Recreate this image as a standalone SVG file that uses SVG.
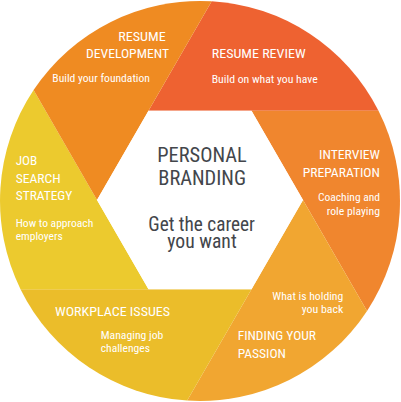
<svg xmlns="http://www.w3.org/2000/svg" width="401" height="402" viewBox="0 0 401 402">
<style>
.t{font-family:"Roboto Condensed","Liberation Sans Narrow",Roboto,"Liberation Sans",sans-serif;fill:#fff;}
.h{font-size:13.5px;}
.s{font-size:10.8px;}
.c{font-family:"Roboto Condensed","Liberation Sans Narrow",Roboto,"Liberation Sans",sans-serif;fill:#43464b;font-size:20.5px;}
</style>
<rect width="401" height="402" fill="#fff"/>
<g id="connectors"></g>
<g id="resume-review">
<path d="M148.5,110.8 L211.7,1.3 A200,200 0 0 1 378.5,110.8 Z" fill="#ee6231"/>
<text class="t h" x="211.7" y="58.3" textLength="94" lengthAdjust="spacingAndGlyphs">RESUME REVIEW</text>
<text class="t s" x="211.7" y="82.5" textLength="106" lengthAdjust="spacingAndGlyphs">Build on what you have</text>
</g>
<g id="interview-preparation">
<path d="M251.5,110.8 L378.5,110.8 A200,200 0 0 1 367.05,310.9 L303,200 Z" fill="#f0862e"/>
<text class="t h" x="319" y="159.3" textLength="61" lengthAdjust="spacingAndGlyphs">INTERVIEW</text>
<text class="t h" x="302.7" y="176.7" textLength="77.3" lengthAdjust="spacingAndGlyphs">PREPARATION</text>
<text class="t s" x="318" y="200.5" textLength="62" lengthAdjust="spacingAndGlyphs">Coaching and</text>
<text class="t s" x="326.7" y="214.5" textLength="53.3" lengthAdjust="spacingAndGlyphs">role playing</text>
</g>
<g id="finding-your-passion">
<path d="M303,200 L367.05,310.9 A200,200 0 0 1 187.2,400.6 L251.5,289.2 Z" fill="#f1a631"/>
<text class="t s" x="272.3" y="300" textLength="71" lengthAdjust="spacingAndGlyphs">What is holding</text>
<text class="t s" x="301.7" y="313.3" textLength="41.6" lengthAdjust="spacingAndGlyphs">you back</text>
<text class="t h" x="237.7" y="340" textLength="78.3" lengthAdjust="spacingAndGlyphs">FINDING YOUR</text>
<text class="t h" x="237.7" y="357.7" textLength="48.3" lengthAdjust="spacingAndGlyphs">PASSION</text>
</g>
<g id="workplace-issues">
<path d="M251.5,289.2 L187.2,400.6 A200,200 0 0 1 20.5,289.2 L148.5,289.2 Z" fill="#ebbd2a"/>
<text class="t h" x="55" y="316" textLength="115" lengthAdjust="spacingAndGlyphs">WORKPLACE ISSUES</text>
<text class="t s" x="100.7" y="339.3" textLength="62.6" lengthAdjust="spacingAndGlyphs">Managing job</text>
<text class="t s" x="100.7" y="352.3" textLength="49.3" lengthAdjust="spacingAndGlyphs">challenges</text>
</g>
<g id="job-search-strategy">
<path d="M148.5,289.2 L20.5,289.2 A200,200 0 0 1 33.6,90.1 L97,200 Z" fill="#ecca2e"/>
<text class="t h" x="15.7" y="165" textLength="21.6" lengthAdjust="spacingAndGlyphs">JOB</text>
<text class="t h" x="15.7" y="182.7" textLength="45" lengthAdjust="spacingAndGlyphs">SEARCH</text>
<text class="t h" x="15.7" y="200.3" textLength="56.6" lengthAdjust="spacingAndGlyphs">STRATEGY</text>
<text class="t s" x="15.7" y="226.7" textLength="77.6" lengthAdjust="spacingAndGlyphs">How to approach</text>
<text class="t s" x="15.7" y="240" textLength="47" lengthAdjust="spacingAndGlyphs">employers</text>
</g>
<g id="resume-development">
<path d="M97,200 L33.6,90.1 A200,200 0 0 1 211.7,1.3 L148.5,110.8 Z" fill="#ef8b22"/>
<text class="t h" x="118.3" y="40.7" textLength="47.4" lengthAdjust="spacingAndGlyphs">RESUME</text>
<text class="t h" x="86" y="58.3" textLength="83" lengthAdjust="spacingAndGlyphs">DEVELOPMENT</text>
<text class="t s" x="52.3" y="82.3" textLength="97.7" lengthAdjust="spacingAndGlyphs">Build your foundation</text>
</g>
<g id="personal-branding">
<path d="M303,200 L251.5,289.2 L148.5,289.2 L97,200 L148.5,110.8 L251.5,110.8 Z" fill="#fff"/>
<text class="c" x="157.3" y="162.3" textLength="89.4" lengthAdjust="spacingAndGlyphs">PERSONAL</text>
<text class="c" x="158.3" y="185" textLength="87.7" lengthAdjust="spacingAndGlyphs">BRANDING</text>
<text class="c" x="148.3" y="231" textLength="106.7" lengthAdjust="spacingAndGlyphs">Get the career</text>
<text class="c" x="167.3" y="247.5" textLength="69.4" lengthAdjust="spacingAndGlyphs">you want</text>
</g>
</svg>
